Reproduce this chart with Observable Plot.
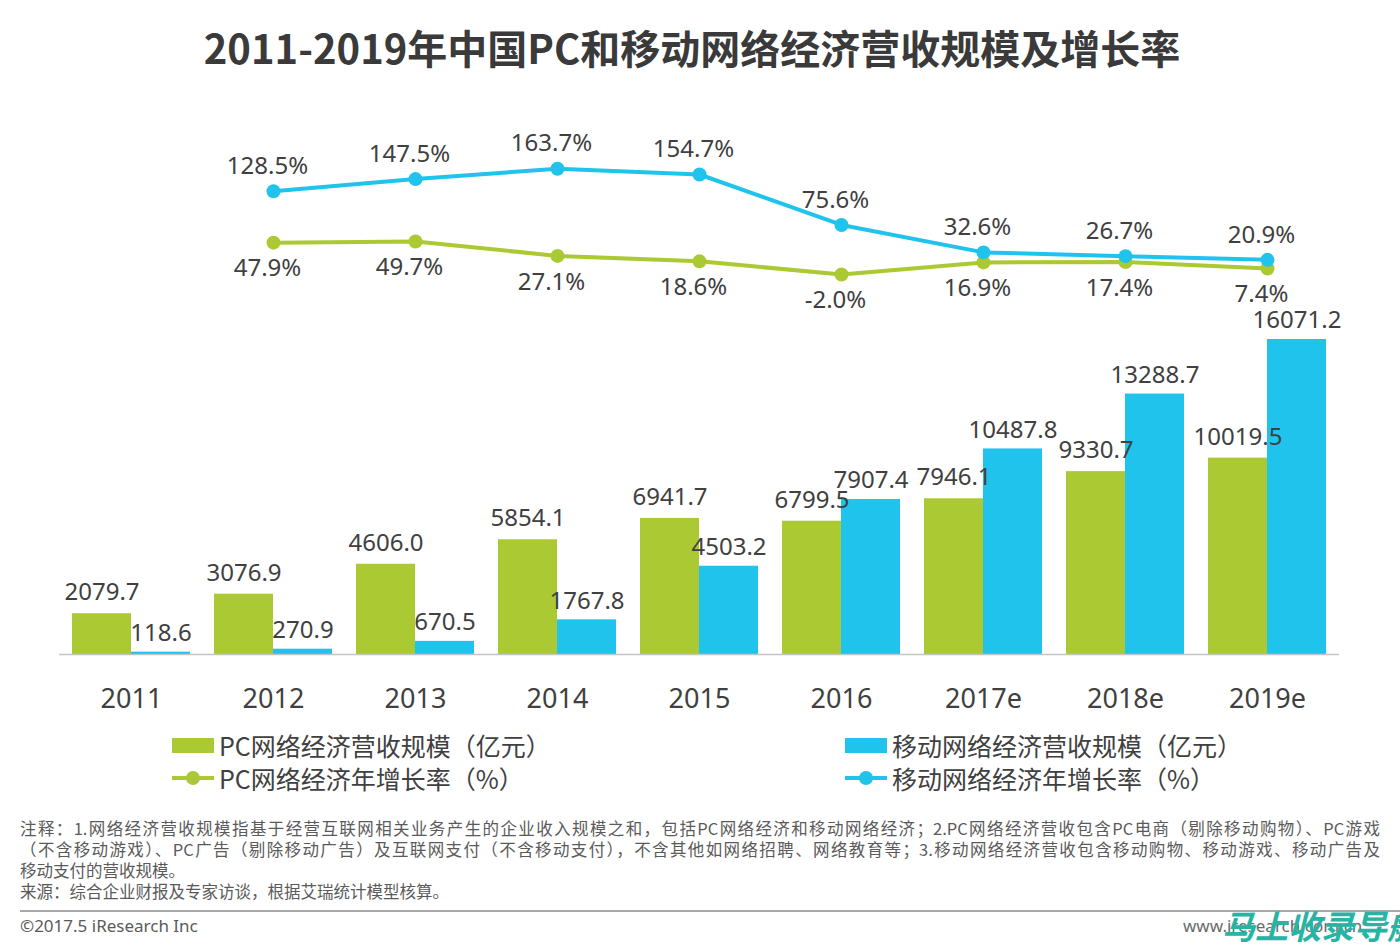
<!DOCTYPE html>
<html>
<head>
<meta charset="utf-8">
<script src="https://cdn.jsdelivr.net/npm/d3@7"></script>
<script src="https://cdn.jsdelivr.net/npm/@observablehq/plot@0.6"></script>
<style>
  html, body { margin: 0; padding: 0; background: #fff; }
  #root { position: relative; width: 1400px; height: 947px; overflow: hidden;
          font-family: "Noto Sans", "Noto Sans CJK SC", sans-serif; color: #404040; }
  .abs { position: absolute; }
  #title { left: 0; width: 1384px; top: 22px; line-height: 50px; text-align: center;
           font-size: 40px; font-weight: bold; color: #3a3a3a;
           font-family: "Noto Sans CJK SC", "Noto Sans", sans-serif; }
  .chart svg { position: absolute; left: 0; top: 0; background: transparent !important; }
  .leg { font-size: 25px; line-height: 32px; white-space: nowrap; display: flex; align-items: center;
         font-family: "Noto Sans CJK SC", "Noto Sans", sans-serif; color: #404040; }
  .leg svg { margin-right: 5px; }
  #notes { left: 20px; top: 818px; width: 1360px; font-size: 16.5px; line-height: 21px; color: #5a5a5a;
           font-family: "Noto Sans CJK SC", "Noto Sans", sans-serif; }
  #notes div { white-space: nowrap; }
  #notes .j { text-align: justify; text-align-last: justify; }
  #sep { left: 20px; top: 910px; width: 1380px; height: 2px; background: #a8a8a8; }
  #copy { left: 20px; top: 914px; font-size: 17px; line-height: 24px; color: #5a5a5a; }
  #www { left: 1183px; top: 914px; font-size: 17px; line-height: 24px; color: #6a6a6a; }
  #wm { left: 1222px; top: 905px; font-size: 33px; line-height: 40px; font-weight: bold; font-style: italic;
        color: #27b4a4; font-family: "Noto Sans CJK SC", sans-serif; white-space: nowrap; }
</style>
</head>
<body>
<div id="root">
  <div id="title" class="abs"></div>
  <div id="chart" class="chart abs" style="left:0;top:0;width:1400px;height:720px;"></div>
  <div id="legend"></div>
  <div id="notes" class="abs"></div>
  <div id="sep" class="abs"></div>
  <div id="copy" class="abs">©2017.5 iResearch Inc</div>
  <div id="www" class="abs">www.iresearch.com.cn</div>
  <div id="wm" class="abs">马上收录导航</div>
</div>
<script>
const titleText = "2011-2019年中国PC和移动网络经济营收规模及增长率";
const years = ["2011", "2012", "2013", "2014", "2015", "2016", "2017e", "2018e", "2019e"];
const pcRevenue = [2079.7, 3076.9, 4606.0, 5854.1, 6941.7, 6799.5, 7946.1, 9330.7, 10019.5];
const mobileRevenue = [118.6, 270.9, 670.5, 1767.8, 4503.2, 7907.4, 10487.8, 13288.7, 16071.2];
const growthYears = ["2012", "2013", "2014", "2015", "2016", "2017e", "2018e", "2019e"];
const pcGrowth = [47.9, 49.7, 27.1, 18.6, -2.0, 16.9, 17.4, 7.4];
const mobileGrowth = [128.5, 147.5, 163.7, 154.7, 75.6, 32.6, 26.7, 20.9];
const legendLabels = ["PC网络经济营收规模（亿元）", "移动网络经济营收规模（亿元）", "PC网络经济年增长率（%）", "移动网络经济年增长率（%）"];
const noteLines = [
  "注释：1.网络经济营收规模指基于经营互联网相关业务产生的企业收入规模之和，包括PC网络经济和移动网络经济；2.PC网络经济营收包含PC电商（剔除移动购物）、PC游戏",
  "（不含移动游戏）、PC广告（剔除移动广告）及互联网支付（不含移动支付），不含其他如网络招聘、网络教育等；3.移动网络经济营收包含移动购物、移动游戏、移动广告及",
  "移动支付的营收规模。",
  "来源：综合企业财报及专家访谈，根据艾瑞统计模型核算。"
];

const GREEN = "#abc933";
const BLUE = "#1fc3ec";
const TEXT = "#404040";
const FONT = "'Noto Sans', 'Noto Sans CJK SC', sans-serif";

document.getElementById("title").textContent = titleText;

const bars = years.map((y, i) => ({year: y, pc: pcRevenue[i], mobile: mobileRevenue[i]}));
const growth = growthYears.map((y, i) => ({year: y, pc: pcGrowth[i], mobile: mobileGrowth[i]}));

const xScale = {type: "band", domain: years, paddingInner: 0.17, paddingOuter: 0.085, axis: null};
const common = {width: 1400, height: 720, marginLeft: 59, marginRight: 61, marginTop: 0, marginBottom: 66,
  style: {fontFamily: FONT, background: "transparent", overflow: "visible"}};

const half = 59;

const barPlot = Plot.plot({
  ...common,
  x: xScale,
  y: {domain: [0, 16071.2], range: [654, 339], axis: null},
  marks: [
    Plot.barY(bars, {x: "year", y: "pc", fill: GREEN, insetRight: half}),
    Plot.barY(bars, {x: "year", y: "mobile", fill: BLUE, insetLeft: half}),
    Plot.ruleY([0], {stroke: "#c4c4c4", strokeWidth: 1.5}),
    Plot.text(bars, {x: "year", y: "pc", text: d => d.pc.toFixed(1), dx: -half / 2, dy: -21, fontSize: 24, fill: TEXT}),
    Plot.text(bars, {x: "year", y: "mobile", text: d => d.mobile.toFixed(1), dx: half / 2, dy: -19, fontSize: 24, fill: TEXT}),
    Plot.text(years, {x: d => d, text: d => d, frameAnchor: "bottom", dy: 53, fontSize: 27, fill: TEXT})
  ]
});

const linePlot = Plot.plot({
  ...common,
  x: xScale,
  y: {domain: [0, 100], range: [272.7, 208.9], axis: null},
  marks: [
    Plot.line(growth, {x: "year", y: "pc", stroke: GREEN, strokeWidth: 4}),
    Plot.dot(growth, {x: "year", y: "pc", r: 7, fill: GREEN}),
    Plot.line(growth, {x: "year", y: "mobile", stroke: BLUE, strokeWidth: 4}),
    Plot.dot(growth, {x: "year", y: "mobile", r: 7, fill: BLUE}),
    Plot.text(growth, {x: "year", y: "mobile", text: d => d.mobile.toFixed(1) + "%", dx: -6, dy: -25, fontSize: 24, fill: TEXT}),
    Plot.text(growth, {x: "year", y: "pc", text: d => d.pc.toFixed(1) + "%", dx: -6, dy: 26, fontSize: 24, fill: TEXT})
  ]
});

const chart = document.getElementById("chart");
chart.appendChild(barPlot);
chart.appendChild(linePlot);

// Legend
const legend = document.getElementById("legend");
const items = [
  {label: legendLabels[0], color: GREEN, kind: "rect", x: 172, y: 745},
  {label: legendLabels[1], color: BLUE, kind: "rect", x: 845, y: 745},
  {label: legendLabels[2], color: GREEN, kind: "line", x: 172, y: 778},
  {label: legendLabels[3], color: BLUE, kind: "line", x: 845, y: 778}
];
for (const it of items) {
  const div = document.createElement("div");
  div.className = "leg abs";
  div.style.left = it.x + "px";
  div.style.top = (it.y - 16) + "px";
  const ns = "http://www.w3.org/2000/svg";
  const s = document.createElementNS(ns, "svg");
  s.setAttribute("width", 42); s.setAttribute("height", 32);
  if (it.kind === "rect") {
    const r = document.createElementNS(ns, "rect");
    r.setAttribute("x", 0); r.setAttribute("y", 9); r.setAttribute("width", 42); r.setAttribute("height", 15);
    r.setAttribute("fill", it.color);
    s.appendChild(r);
  } else {
    const l = document.createElementNS(ns, "line");
    l.setAttribute("x1", 0); l.setAttribute("x2", 42); l.setAttribute("y1", 16); l.setAttribute("y2", 16);
    l.setAttribute("stroke", it.color); l.setAttribute("stroke-width", 4);
    const c = document.createElementNS(ns, "circle");
    c.setAttribute("cx", 21); c.setAttribute("cy", 16); c.setAttribute("r", 7); c.setAttribute("fill", it.color);
    s.appendChild(l); s.appendChild(c);
  }
  div.appendChild(s);
  const span = document.createElement("span");
  span.textContent = it.label;
  div.appendChild(span);
  legend.appendChild(div);
}

// Notes
const notes = document.getElementById("notes");
noteLines.forEach((t, i) => {
  const d = document.createElement("div");
  d.textContent = t;
  if (i < 2) d.className = "j";
  notes.appendChild(d);
});
</script>
</body>
</html>
